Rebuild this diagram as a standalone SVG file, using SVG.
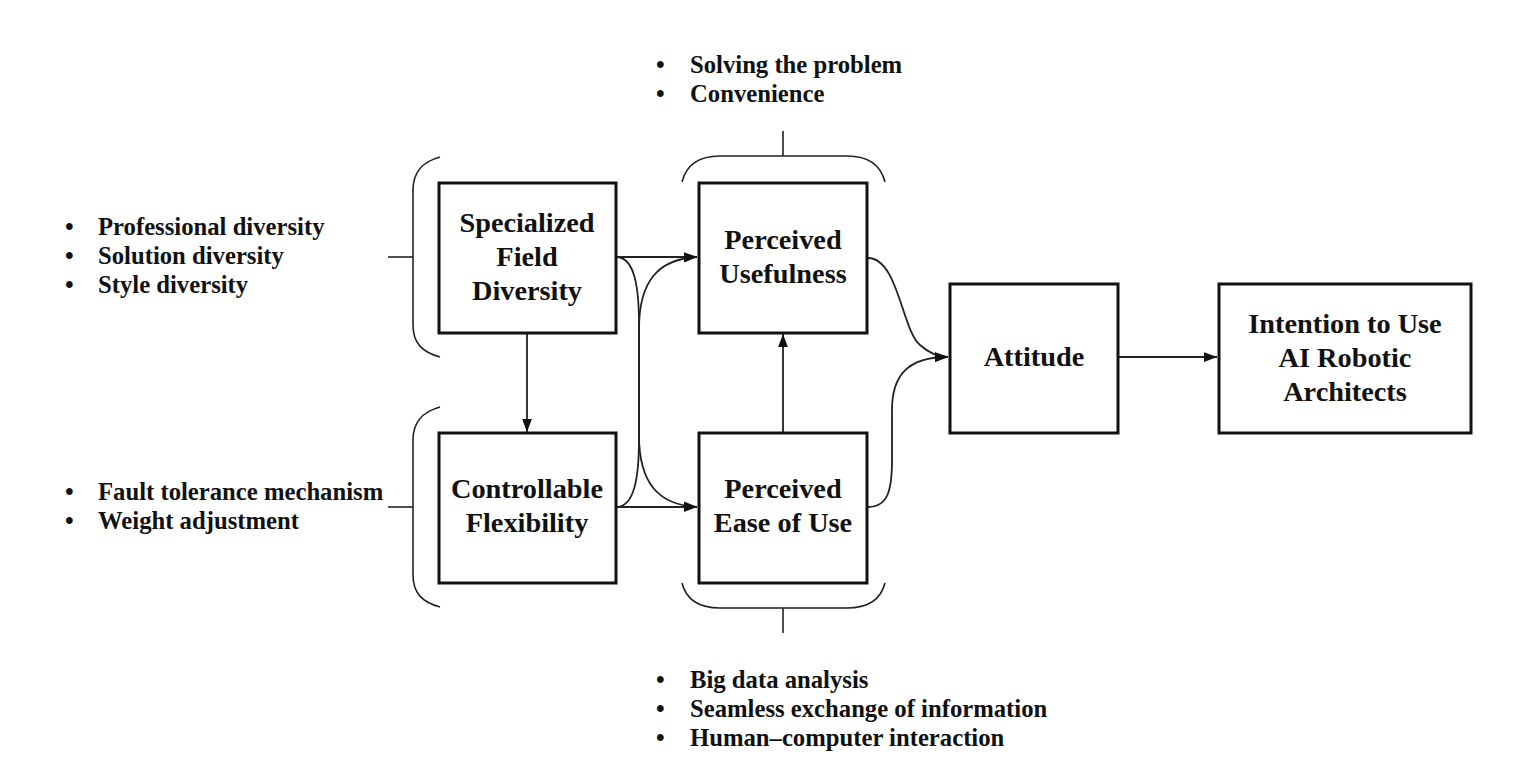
<svg xmlns="http://www.w3.org/2000/svg" width="1525" height="776" viewBox="0 0 1525 776">
<style>
.box{fill:#fff;stroke:#111;stroke-width:3}
.nt{font-family:"Liberation Serif","Times New Roman",serif;font-weight:bold;font-size:28.3px;fill:#111;text-anchor:middle}
.bt{font-family:"Liberation Serif","Times New Roman",serif;font-weight:bold;font-size:24.7px;fill:#111}
.br{fill:none;stroke:#222;stroke-width:1.6}
.cn{fill:none;stroke:#222;stroke-width:1.8}
</style>
<defs>
<marker id="arr" viewBox="0 0 12 10" refX="12" refY="5" markerWidth="13" markerHeight="11" markerUnits="userSpaceOnUse" orient="auto">
<path d="M0,0.5 L12,5 L0,9.5 z" fill="#111"/>
</marker>
</defs>
<rect width="1525" height="776" fill="#fff"/>

<g id="brackets">
<path class="br" d="M440,157 C422,162 413,172 413,190 L413,325 C413,343 422,352 440,357"/>
<path class="br" d="M388,257 L413,257"/>
<path class="br" d="M440,407 C422,412 413,422 413,440 L413,575 C413,593 422,602 440,607"/>
<path class="br" d="M388,507 L413,507"/>
<path class="br" d="M682,182 C686,166 698,156 720,156 L847,156 C869,156 881,166 885,182"/>
<path class="br" d="M783,131 L783,156"/>
<path class="br" d="M682,583 C686,599 698,608 720,608 L847,608 C869,608 881,599 885,583"/>
<path class="br" d="M783,608 L783,633"/>
</g>

<g id="lists">
<text class="bt" x="65" y="235">•</text><text class="bt" x="98" y="235">Professional diversity</text>
<text class="bt" x="65" y="264">•</text><text class="bt" x="98" y="264">Solution diversity</text>
<text class="bt" x="65" y="293">•</text><text class="bt" x="98" y="293">Style diversity</text>
<text class="bt" x="65" y="500">•</text><text class="bt" x="98" y="500">Fault tolerance mechanism</text>
<text class="bt" x="65" y="529">•</text><text class="bt" x="98" y="529">Weight adjustment</text>
<text class="bt" x="656" y="73">•</text><text class="bt" x="690" y="73">Solving the problem</text>
<text class="bt" x="656" y="102">•</text><text class="bt" x="690" y="102">Convenience</text>
<text class="bt" x="656" y="688">•</text><text class="bt" x="690" y="688">Big data analysis</text>
<text class="bt" x="656" y="717">•</text><text class="bt" x="690" y="717">Seamless exchange of information</text>
<text class="bt" x="656" y="746">•</text><text class="bt" x="690" y="746">Human–computer interaction</text>
</g>

<g id="connectors">
<path class="cn" d="M617,257 L697,257" marker-end="url(#arr)"/>
<path class="cn" d="M617,507 L697,507" marker-end="url(#arr)"/>
<path class="cn" d="M617,257 C634,258 639,285 639,325 L639,435 C639,485 660,505 697,507" marker-end="url(#arr)"/>
<path class="cn" d="M617,507 C634,506 639,479 639,439 L639,329 C639,279 660,259 697,257" marker-end="url(#arr)"/>
<path class="cn" d="M527,333 L527,432" marker-end="url(#arr)"/>
<path class="cn" d="M783,433 L783,334" marker-end="url(#arr)"/>
<path class="cn" d="M868,258 C898,258 902,330 920,345 C930,354 938,357 948,357" marker-end="url(#arr)"/>
<path class="cn" d="M868,507 C888,507 892,490 892,460 L892,410 C892,375 908,357 948,357" marker-end="url(#arr)"/>
<path class="cn" d="M1118,357 L1217,357" marker-end="url(#arr)"/>
</g>

<g id="node-sfd">
<rect class="box" x="439" y="183" width="177" height="150"/>
<text class="nt" x="527" y="232">Specialized</text>
<text class="nt" x="527" y="266">Field</text>
<text class="nt" x="527" y="300">Diversity</text>
</g>
<g id="node-cf">
<rect class="box" x="439" y="433" width="177" height="150"/>
<text class="nt" x="527" y="498">Controllable</text>
<text class="nt" x="527" y="532">Flexibility</text>
</g>
<g id="node-pu">
<rect class="box" x="699" y="183" width="168" height="150"/>
<text class="nt" x="783" y="249">Perceived</text>
<text class="nt" x="783" y="283">Usefulness</text>
</g>
<g id="node-peu">
<rect class="box" x="699" y="433" width="168" height="150"/>
<text class="nt" x="783" y="498">Perceived</text>
<text class="nt" x="783" y="532">Ease of Use</text>
</g>
<g id="node-att">
<rect class="box" x="950" y="284" width="168" height="149"/>
<text class="nt" x="1034" y="366">Attitude</text>
</g>
<g id="node-int">
<rect class="box" x="1219" y="284" width="252" height="149"/>
<text class="nt" x="1345" y="333">Intention to Use</text>
<text class="nt" x="1345" y="367">AI Robotic</text>
<text class="nt" x="1345" y="401">Architects</text>
</g>
</svg>
